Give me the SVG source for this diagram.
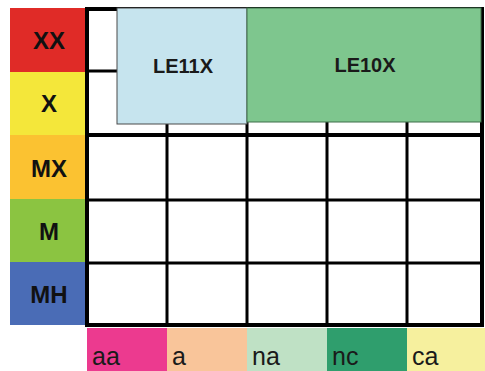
<svg xmlns="http://www.w3.org/2000/svg" width="485" height="371" viewBox="0 0 485 371">
<style>
.lbl{font-family:"Liberation Sans",Arial,sans-serif;font-weight:bold;font-size:24px;fill:#111;text-anchor:middle}
.box{font-family:"Liberation Sans",Arial,sans-serif;font-weight:bold;font-size:20px;fill:#1a1a1a;text-anchor:middle}
.bot{font-family:"Liberation Sans",Arial,sans-serif;font-size:25px;fill:#1a1a1a}
.thin{stroke:#000;stroke-width:3;fill:none}
.thick{stroke:#000;stroke-width:4;fill:none}
</style>
<rect width="485" height="371" fill="#fff"/>
<g id="rows">
<g id="row-XX"><rect x="10" y="8" width="76" height="64" fill="#e02b27"/><text class="lbl" x="49" y="49">XX</text></g>
<g id="row-X"><rect x="10" y="72" width="76" height="63" fill="#f4e73a"/><text class="lbl" x="49" y="112">X</text></g>
<g id="row-MX"><rect x="10" y="135" width="76" height="64" fill="#fbc231"/><text class="lbl" x="49" y="177">MX</text></g>
<g id="row-M"><rect x="10" y="199" width="76" height="63" fill="#8bc441"/><text class="lbl" x="49" y="240">M</text></g>
<g id="row-MH"><rect x="10" y="262" width="76" height="63" fill="#4a6cb6"/><text class="lbl" x="49" y="303">MH</text></g>
</g>
<g id="cols">
<g id="col-aa"><rect x="87" y="328" width="80" height="43" fill="#ec3a8f"/><text class="bot" x="92" y="365">aa</text></g>
<g id="col-a"><rect x="167" y="328" width="80" height="43" fill="#f9c59a"/><text class="bot" x="172" y="365">a</text></g>
<g id="col-na"><rect x="247" y="328" width="80" height="43" fill="#bfe1c5"/><text class="bot" x="252" y="365">na</text></g>
<g id="col-nc"><rect x="327" y="328" width="80" height="43" fill="#2f9e6d"/><text class="bot" x="332" y="365">nc</text></g>
<g id="col-ca"><rect x="407" y="328" width="78" height="43" fill="#f6f09e"/><text class="bot" x="412" y="365">ca</text></g>
</g>
<g id="grid">
<path class="thin" d="M87 71H482M87 200H482M87 263H482M167 9V325M247 9V325M327 9V325M407 9V325"/>
<path class="thick" d="M87 9H482M87 135H482M87 325H482M87 7V327M482 7V327"/>
</g>
<g id="LE11X"><rect x="117" y="8" width="130" height="116" fill="#c6e4ee" stroke="#4a4a4a" stroke-width="1"/><text class="box" x="183" y="73">LE11X</text></g>
<g id="LE10X"><rect x="247" y="8" width="234" height="114" fill="#7ec68e" stroke="#3e6e4a" stroke-width="1"/><text class="box" x="365" y="72">LE10X</text></g>
</svg>
